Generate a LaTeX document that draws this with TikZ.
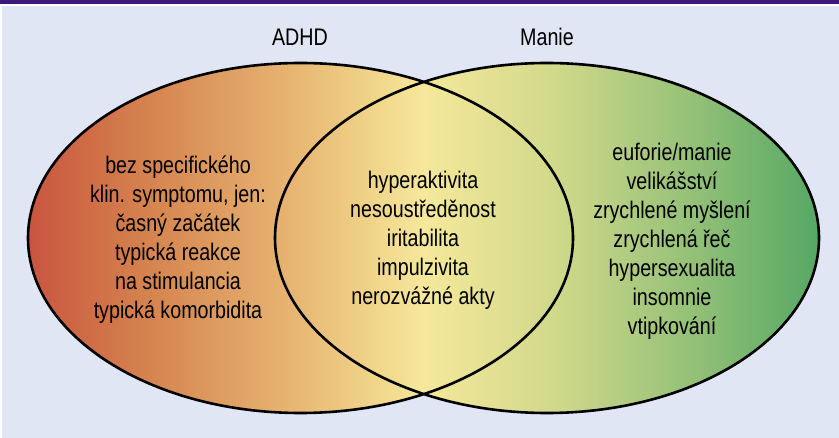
\documentclass[tikz,border=0pt]{standalone}
\usepackage{fontspec}
\newfontfamily\nf[FakeStretch=0.82]{Liberation Sans}
\definecolor{bgc}{HTML}{E0E6F4}
\definecolor{barc}{HTML}{3D1A78}
\definecolor{ca}{HTML}{C9553F}
\definecolor{cb}{HTML}{D6844F}
\definecolor{cc}{HTML}{E8B874}
\definecolor{cd}{HTML}{F6E89A}
\definecolor{ce}{HTML}{CFD88A}
\definecolor{cf}{HTML}{90BF76}
\definecolor{cg}{HTML}{55A865}
\pgfdeclarehorizontalshading{venn}{100bp}{color(0bp)=(ca); color(25bp)=(ca); color(32.7bp)=(cb); color(42.2bp)=(cc); color(50bp)=(cd); color(58.6bp)=(ce); color(67.5bp)=(cf); color(75bp)=(cg); color(100bp)=(cg)}
\tikzset{
  txt/.style={font=\nf\fontsize{24}{29}\selectfont, align=center, inner sep=0pt, text=black},
  outline/.style={draw=black, line width=2.6pt}
}
\begin{document}
\begin{tikzpicture}[x=1pt,y=-1pt]
\useasboundingbox (0,0) rectangle (839,438);
\fill[white] (0,0) rectangle (839,438);
\fill[barc] (0,0) rectangle (839,4.5);
\fill[bgc] (1.5,6) rectangle (839,438);
\shade[shading=venn] (300.5,238) ellipse (272.5 and 175) (547,238) ellipse (272 and 175);
\draw[outline] (300.5,238) ellipse (272.5 and 175);
\draw[outline] (547,238) ellipse (272 and 175);
\node[txt] (adhd) at (300,37) {ADHD};
\node[txt] (manie) at (547,37) {Manie};
\node[txt] (left) at (178,240) {bez specifického\\klin. symptomu, jen:\\časný začátek\\typická reakce\\na stimulancia\\typická komorbidita};
\node[txt] (mid) at (423,240) {hyperaktivita\\nesoustředěnost\\iritabilita\\impulzivita\\nerozvážné akty};
\node[txt] (right) at (672,241) {euforie/manie\\velikášství\\zrychlené myšlení\\zrychlená řeč\\hypersexualita\\insomnie\\vtipkování};
\end{tikzpicture}
\end{document}
